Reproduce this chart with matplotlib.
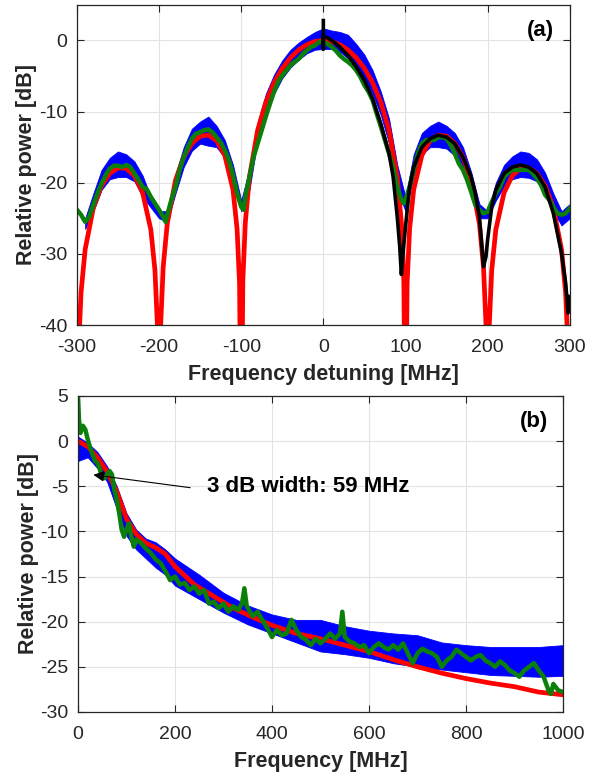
import matplotlib
matplotlib.use("Agg")
import matplotlib.pyplot as plt

plt.rcParams['font.family'] = ['Liberation Sans', 'DejaVu Sans']
plt.rcParams['axes.unicode_minus'] = False

# ---------------- panel (a): spectrum vs detuning ----------------
red_a_x = [-300, -298, -295, -290, -280, -270, -260, -250, -240, -230, -220, -210, -205, -202,
           -200, -198, -195, -190, -180, -170, -160, -150, -140, -130, -120, -110, -105, -102,
           -100, -98, -95, -90, -80, -70, -60, -50, -40, -30, -20, -10, 0,
           10, 20, 30, 40, 50, 60, 70, 80, 90, 95, 98, 100, 102, 105, 110, 120, 130, 140, 150,
           160, 170, 180, 190, 195, 198, 200, 202, 205, 210, 220, 230, 240, 250, 260, 270, 280,
           290, 295, 298, 300]
red_a_y = [-60, -43.5, -35.45, -29.39, -23.50, -20.41, -18.68, -17.90, -17.98, -19.02, -21.41, -26.6, -32.3, -40.1,
           -60, -39.9, -31.86, -25.72, -19.66, -16.39, -14.46, -13.46, -13.30, -14.06, -16.14, -20.97, -26.5, -34.2,
           -60, -33.8, -25.6, -19.23, -12.62, -8.69, -5.94, -3.92, -2.42, -1.33, -0.58, -0.14, 0,
           -0.14, -0.58, -1.33, -2.42, -3.92, -5.94, -8.69, -12.62, -19.23, -25.6, -33.8, -60, -34.2, -26.5, -20.97, -16.14, -14.06, -13.30, -13.46,
           -14.46, -16.39, -19.66, -25.72, -31.86, -39.9, -60, -40.1, -32.3, -26.6, -21.41, -19.02, -17.98, -17.90, -18.68, -20.41, -23.50,
           -29.39, -35.45, -43.5, -60]

blue_a_x = [-290, -280, -270, -260, -250, -240, -230, -220, -210, -200, -190, -180, -170, -160, -150,
            -140, -130, -120, -110, -100, -90, -80, -70, -60, -50, -40, -30, -20, -10, 0,
            10, 20, 30, 40, 50, 60, 70, 80, 90, 100, 110, 120, 130, 140, 150, 160, 170, 180,
            190, 200, 210, 220, 230, 240, 250, 260, 270, 280, 290, 300]
blue_a_hi = [-25, -21.5, -18.2, -16.5, -15.6, -16.0, -17.0, -19.0, -22, -24, -24, -18.8, -15.0, -12.4, -11.4,
             -10.7, -12.0, -14.0, -17.5, -22.5, -18, -11.5, -7.5, -4.8, -2.8, -1.3, -0.3, 0.5, 1.2, 1.7,
             1.4, 1.2, 0.8, -0.5, -2.0, -4.2, -7.2, -11.0, -17.5, -22, -16.0, -13.0, -12.0, -11.4, -12.0, -13.0, -15.0, -18.5,
             -23, -24, -20.0, -17.5, -16.3, -15.6, -15.8, -16.7, -18.6, -21.5, -24, -23]
blue_a_lo = [-26.5, -24, -21, -19.5, -19.2, -19.2, -19.8, -22, -23.5, -25, -25.5, -21.5, -17.8, -15.5, -14.5,
             -14.8, -15.0, -16.5, -19.5, -24, -21, -14.0, -10.5, -7.5, -5.3, -3.8, -2.7, -1.8, -1.3, -1.2,
             -1.2, -1.6, -2.5, -3.8, -5.3, -7.5, -10.5, -14.5, -21, -24, -19, -16, -15, -15, -15.2, -16.2, -18, -21.5,
             -25, -25, -22.5, -20.5, -19.5, -19.2, -19.3, -19.8, -21.5, -24, -26, -25]

green_a_x = [-300, -295, -290, -285, -280, -275, -270, -265, -260, -255, -250, -245, -240, -235, -230,
             -225, -220, -215, -210, -205, -200, -195, -192, -190, -185, -180, -175, -170, -165, -160,
             -155, -150, -145, -140, -135, -130, -125, -120, -115, -110, -105, -100, -97, -95, -90,
             -85, -80, -75, -70, -65, -60, -55, -50, -45, -40, -35, -30, -25, -20, -15, -10, -5, 0,
             5, 10, 15, 20, 25, 30, 35, 40, 45, 50, 55, 60, 65, 70, 75, 80, 85, 90, 95, 98, 100,
             105, 110, 115, 120, 125, 130, 135, 140, 145, 150, 155, 160, 165, 170, 175, 180, 185,
             190, 195, 200, 205, 210, 215, 220, 225, 230, 240, 250, 255, 260, 265, 270, 275, 280,
             285, 290, 295, 300]
green_a_y = [-23.8, -24.5, -25.5, -24.8, -23.1, -21.5, -20.1, -18.9, -18.0, -17.6, -17.6, -17.8, -17.5, -17.8, -18.7,
             -19.6, -20.6, -20.9, -22.0, -22.9, -23.8, -24.8, -25.5, -24.5, -22.4, -20.6, -18.2, -16.4, -15.0, -13.8,
             -13.1, -12.9, -12.6, -12.5, -12.9, -13.6, -14.3, -15.4, -16.8, -18.9, -21.5, -23.4, -23.8, -22.0, -19.2,
             -16.4, -14.5, -12.6, -10.7, -8.9, -7.2, -5.8, -4.9, -4.2, -3.5, -3.0, -2.6, -1.9, -1.4, -0.9, -0.7, -0.2, -0.2,
             -0.5, -0.9, -1.4, -2.1, -2.6, -3.0, -3.5, -4.2, -5.1, -6.3, -7.2, -8.4, -10.3, -12.1, -14.0, -15.9, -17.8, -20.6, -22.4, -22.9, -22.4,
             -20.6, -18.2, -15.9, -14.5, -14.0, -14.0, -14.0, -13.6, -13.6, -13.8, -14.7, -15.9, -17.3, -18.2, -19.6, -21.3, -23.1,
             -23.8, -24.3, -24.1, -22.7, -21.5, -20.6, -19.2, -18.6, -18.2, -18.2, -18.2, -18.7, -19.4, -20.3, -21.7, -22.4, -23.4,
             -24.3, -24.5, -24.3, -23.6]

black_a_x = [0, 0, 0, 5, 10, 15, 20, 30, 40, 50, 60, 70, 80, 85, 90, 93, 95, 97, 100, 105, 110, 120,
             130, 140, 150, 160, 170, 180, 185, 190, 195, 198, 200, 205, 210, 220, 230, 240, 250, 260,
             270, 280, 290, 295, 298, 300]
black_a_y = [2.8, -1.2, 0.5, 0.4, 0.0, -0.4, -0.9, -2.1, -3.7, -5.6, -8.2, -11.7, -15.9, -19.2, -24.8, -29.0, -32.9, -29.9, -26.2, -20.6, -17.8, -15.0,
             -13.8, -13.3, -13.6, -14.5, -16.4, -19.2, -21.5, -24.8, -31.8, -30.4, -28.0, -23.4, -21.0, -18.7, -17.8, -17.5, -17.8, -18.7,
             -20.6, -24.3, -29.9, -34.1, -38.3, -36.0]

# ---------------- panel (b): spectrum vs frequency ----------------
red_b_x = [0, 20, 40, 60, 80, 100, 120, 140, 160, 180, 200, 240, 280, 320, 360, 400, 450, 500,
           550, 600, 650, 700, 750, 800, 850, 900, 950, 1000]
red_b_y = [0, -0.6, -1.8, -3.4, -5.6, -8.6, -10.3, -11.3, -11.8, -12.5, -13.9, -15.9, -17.2, -18.5,
           -19.5, -20.4, -21.3, -21.9, -22.6, -23.3, -24.2, -25.0, -25.7, -26.3, -26.8, -27.2, -27.8, -28.1]

blue_b_x = [0, 20, 40, 60, 80, 100, 120, 140, 160, 180, 200, 250, 300, 350, 400, 450, 500, 550,
            600, 650, 700, 750, 800, 850, 900, 950, 1000]
blue_b_hi = [0.5, -0.2, -1.2, -2.8, -5, -8, -9.8, -10.8, -11.2, -12, -13, -14.8, -16.8, -18.2, -19.2,
             -19.8, -19.8, -20.5, -21.0, -21.3, -21.5, -22.3, -22.6, -22.8, -22.8, -22.8, -22.6]
blue_b_lo = [-2.2, -1.8, -3, -4.5, -7.5, -10.5, -12, -13, -14, -14.8, -16, -17.5, -19, -20.3, -21.3,
             -22.3, -23.3, -23.6, -24.0, -24.6, -25.0, -25.3, -25.6, -25.9, -26.0, -26.1, -26.0]

green_b_x = [0, 2, 5, 10, 15, 20, 25, 30, 35, 40, 45, 50, 55, 60, 65, 70, 75, 80, 85, 90, 95, 100,
             105, 110, 115, 120, 130, 140, 150, 160, 170, 180, 190, 200, 210, 220, 230, 240, 250, 260,
             270, 280, 290, 300, 310, 320, 330, 338, 343, 348, 360, 370, 380, 390, 400, 410, 420, 430,
             440, 450, 460, 470, 480, 490, 500, 510, 520, 530, 540, 545, 550, 560, 570, 580, 590, 600,
             610, 620, 630, 640, 650, 660, 670, 680, 690, 700, 710, 720, 730, 740, 750, 760, 770, 780,
             790, 800, 810, 820, 830, 840, 850, 860, 870, 880, 890, 900, 910, 920, 930, 940, 950, 960,
             970, 975, 980, 990, 1000]
green_b_y = [5.0, 2.4, 0.9, 1.7, 1.3, 0.2, -0.7, -1.5, -2.2, -2.4, -3.1, -4.1, -4.1, -3.7, -3.3, -3.7, -5.4, -6.5, -8.0, -9.8, -10.6, -9.8,
             -9.1, -10.6, -11.7, -10.9, -11.3, -11.9, -12.4, -13.1, -13.5, -14.4, -15.4, -15.0, -15.9, -15.7, -16.5, -16.1, -16.9, -16.5,
             -18.0, -17.8, -18.5, -18.0, -18.9, -18.3, -18.7, -18.0, -16.3, -18.3, -19.4, -18.9, -19.8, -20.7, -21.7, -20.9, -21.5, -21.3,
             -19.8, -20.9, -21.7, -22.0, -22.6, -21.9, -22.4, -21.9, -21.3, -21.9, -21.3, -18.9, -21.7, -22.2, -22.4, -22.8, -22.6, -23.5,
             -22.8, -22.4, -22.8, -23.1, -22.6, -23.1, -22.4, -23.5, -24.6, -23.5, -23.0, -23.3, -23.5, -23.9, -25.0, -24.3, -23.9, -23.1,
             -23.5, -23.9, -24.3, -23.9, -23.7, -24.3, -24.6, -25.0, -24.4, -24.8, -25.4, -25.7, -26.1, -25.4, -25.0, -24.6, -25.4, -26.1,
             -27.6, -28.0, -26.9, -27.6, -27.8]

TXT = '#262626'
GRID = '#e3e3e3'


def style_axes(ax):
    ax.grid(True, color=GRID, lw=0.8)
    ax.set_axisbelow(True)
    ax.tick_params(direction='in', top=True, right=True, length=5, width=0.8,
                   labelsize=14, colors=TXT)
    ax.tick_params(axis='x', pad=10)
    ax.tick_params(axis='y', pad=7)
    for s in ax.spines.values():
        s.set_color(TXT)
        s.set_linewidth(0.9)


fig = plt.figure(figsize=(6.01, 7.77), dpi=100)

# (a)
ax1 = fig.add_axes([0.128, 0.5817, 0.820, 0.412])
ax1.fill_between(blue_a_x, blue_a_lo, blue_a_hi, color='blue', lw=0.6, edgecolor='blue')
ax1.plot(red_a_x, red_a_y, color='red', lw=3.4, solid_capstyle='butt')
ax1.plot(green_a_x, green_a_y, color='#0a7f0a', lw=3.2)
ax1.plot(black_a_x, black_a_y, color='black', lw=2.6)
ax1.set_xlim(-300, 300)
ax1.set_ylim(-40, 5)
ax1.set_xticks([-300, -200, -100, 0, 100, 200, 300])
ax1.set_yticks([-40, -30, -20, -10, 0])
style_axes(ax1)
ax1.set_xlabel('Frequency detuning [MHz]', fontsize=15.5, fontweight='bold', color=TXT, labelpad=6)
ax1.set_ylabel('Relative power [dB]', fontsize=15.5, fontweight='bold', color=TXT, labelpad=1)
ax1.text(0.968, 0.92, '(a)', transform=ax1.transAxes, ha='right', va='center',
         fontsize=16, fontweight='bold', color='black')

# (b)
ax2 = fig.add_axes([0.1298, 0.0837, 0.807, 0.4067])
ax2.fill_between(blue_b_x, blue_b_lo, blue_b_hi, color='blue', lw=0.6, edgecolor='blue')
ax2.plot(red_b_x, red_b_y, color='red', lw=3.4)
ax2.plot(green_b_x, green_b_y, color='#0a7f0a', lw=3.2)
ax2.set_xlim(0, 1000)
ax2.set_ylim(-30, 5)
ax2.set_xticks([0, 200, 400, 600, 800, 1000])
ax2.set_yticks([-30, -25, -20, -15, -10, -5, 0, 5])
style_axes(ax2)
ax2.set_xlabel('Frequency [MHz]', fontsize=15.5, fontweight='bold', color=TXT, labelpad=6)
ax2.set_ylabel('Relative power [dB]', fontsize=15.5, fontweight='bold', color=TXT, labelpad=1)
ax2.text(0.969, 0.92, '(b)', transform=ax2.transAxes, ha='right', va='center',
         fontsize=16, fontweight='bold', color='black')
ax2.annotate('', xy=(26, -3.7), xytext=(237, -5.2),
             arrowprops=dict(arrowstyle='-|>', color='black', lw=0.8, mutation_scale=16))
ax2.text(266, -5.0, '3 dB width: 59 MHz', ha='left', va='center',
         fontsize=16, fontweight='bold', color='black')

fig.savefig('out.png', dpi=100)
